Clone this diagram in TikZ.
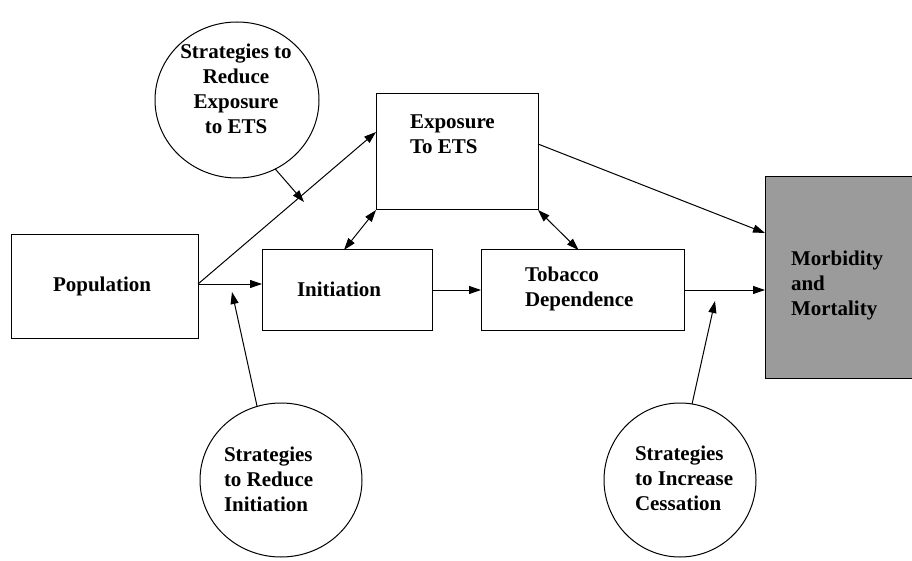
\documentclass[tikz,border=0pt]{standalone}
\usepackage{fontspec}
\setmainfont{Liberation Serif}
\usetikzlibrary{arrows.meta,shapes.geometric}
\definecolor{boxgray}{RGB}{155,155,155}
\begin{document}
\begin{tikzpicture}[x=1pt,y=-1pt,
  every node/.style={inner sep=0pt,outer sep=0pt},
  box/.style={draw=black,line width=1pt,rectangle},
  circ/.style={draw=black,line width=1pt,ellipse},
  lbl/.style={font=\fontsize{21}{25}\selectfont\bfseries,align=left},
  arr/.style={line width=1pt,-{Triangle[length=12pt,width=8pt]}},
  darr/.style={line width=1pt,{Triangle[length=12pt,width=8pt]}-{Triangle[length=12pt,width=8pt]}}]
\useasboundingbox (0,0) rectangle (912,561);
% boxes
\node[box,minimum width=187pt,minimum height=103pt] (pop) at (104.5,286.5) {};
\node[box,minimum width=170pt,minimum height=80pt] (ini) at (347,290) {};
\node[box,minimum width=162pt,minimum height=116pt] (ex) at (457,152) {};
\node[box,minimum width=203pt,minimum height=80pt] (tob) at (582.5,290) {};
\node[box,fill=boxgray,minimum width=152pt,minimum height=201pt,anchor=north west] (mm) at (765,177) {};
% circles
\node[circ,minimum width=164pt,minimum height=156pt] (c1) at (237,100) {};
\node[circ,minimum width=162pt,minimum height=154pt] (c2) at (281,480) {};
\node[circ,minimum width=152pt,minimum height=154pt] (c3) at (680,480) {};
% texts
\node[lbl,anchor=west] (tpop) at (53,286) {Population};
\node[lbl,anchor=west] (tini) at (297,289) {Initiation};
\node[lbl,anchor=west] (tex) at (410,134) {Exposure\\To ETS};
\node[lbl,anchor=west] (ttob) at (525,289) {Tobacco\\Dependence};
\node[lbl,anchor=west] (tmm) at (791,285) {Morbidity\\and\\Mortality};
\node[lbl,align=center] (tc1) at (236,89) {Strategies to\\Reduce\\Exposure\\to ETS};
\node[lbl,anchor=west] (tc2) at (224,479) {Strategies\\to Reduce\\Initiation};
\node[lbl,anchor=west] (tc3) at (635,478) {Strategies\\to Increase\\Cessation};
% connectors
\coordinate (p) at (198,284);
\coordinate (t1) at (304,202);
\coordinate (t2) at (232,292);
\coordinate (t3) at (715,301);
\draw[arr] (p) -- (ini.west |- p);
\draw[arr] (p) -- ([yshift=20pt]ex.west);
\draw[arr] (c1.-61) -- (t1);
\draw[arr] (c2.108) -- (t2);
\draw[arr] (c3.81) -- (t3);
\draw[darr] (ex.south west) -- ([xshift=-3pt]ini.north);
\draw[darr] (ex.south east) -- ([xshift=-4pt]tob.north);
\draw[arr] ([yshift=8pt]ex.east) -- (mm.west |- 0,233);
\draw[arr] (ini.east) -- (tob.west);
\draw[arr] (tob.east) -- (mm.west |- tob.east);
\end{tikzpicture}
\end{document}
